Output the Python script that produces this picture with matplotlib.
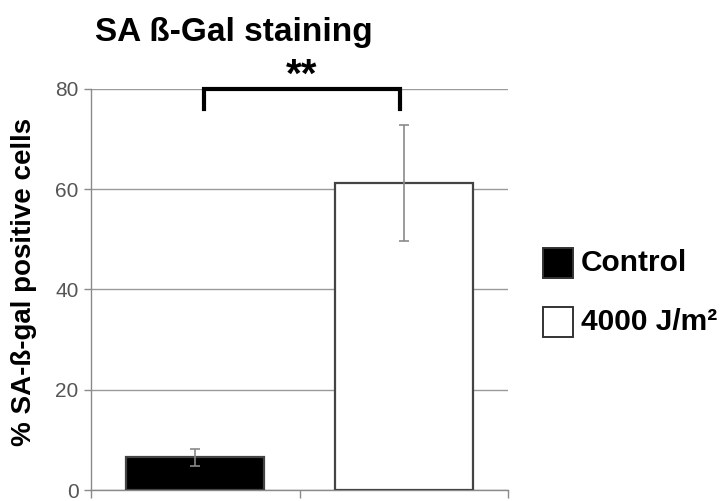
import matplotlib
matplotlib.use('Agg')
import matplotlib.pyplot as plt
from matplotlib.patches import Rectangle

# Senescence-associated beta-gal staining, percent positive cells
groups = ["Control", "4000 J/m\u00b2"]
values = [6.5, 61.2]
errors = [1.7, 11.6]
bar_colors = ["black", "white"]
y_ticks = [0, 20, 40, 60, 80]
signif = "**"

plt.rcParams['font.family'] = ['Liberation Sans', 'DejaVu Sans']

fig = plt.figure(figsize=(7.2, 5.01), dpi=100)
ax = fig.add_axes([91 / 720, 11 / 501, 417 / 720, 401 / 501])

x = [0.5, 1.5]
ax.bar(x, values, width=0.66, color=bar_colors, edgecolor='#444444',
       linewidth=1.6, zorder=3)
ax.errorbar(x, values, yerr=errors, fmt='none', ecolor='#8a8a8a',
            elinewidth=1.2, capsize=3.5, capthick=1.2, zorder=4)

ax.set_xlim(0, 2)
ax.set_ylim(0, 80)
ax.set_yticks(y_ticks)
ax.set_xticks([0, 1, 2])
ax.set_xticklabels([])
ax.yaxis.grid(True, color='#9a9a9a', linewidth=1.0, zorder=0)
ax.set_axisbelow(True)
for side in ['top', 'right']:
    ax.spines[side].set_visible(False)
for side in ['left', 'bottom']:
    ax.spines[side].set_color('#8a8a8a')
    ax.spines[side].set_linewidth(1.0)
ax.tick_params(axis='both', colors='#8a8a8a', length=5, width=1.0,
               labelsize=15, labelcolor='#555555', pad=4)
ax.tick_params(axis='x', length=6)

ax.set_ylabel("% SA-\u00df-gal positive cells", fontsize=20,
              fontweight='bold')
ax.yaxis.set_label_coords(-54 / 417, 0.52)

# significance bracket between the two bars
bx0, bx1 = 0.54, 1.48
ax.plot([bx0, bx0, bx1, bx1], [76.0, 80, 80, 76.0], color='black',
        linewidth=3.0, clip_on=False, zorder=5, solid_joinstyle='miter')
ax.text((bx0 + bx1) / 2, 80.4, signif, ha='center', va='baseline',
        fontsize=29, fontweight='bold')

fig.text(95 / 720, 1 - 33 / 501, "SA \u00df-Gal staining", fontsize=24,
         fontweight='bold', va='center', ha='left')

# legend drawn as squares + labels
for i, (lab, col) in enumerate(zip(groups, bar_colors)):
    yc = 1 - (263 + i * 59) / 501
    fig.patches.append(Rectangle((543 / 720, yc - 15 / 501), 30 / 720, 30 / 501,
                                 transform=fig.transFigure, facecolor=col,
                                 edgecolor='#333333', linewidth=1.4))
    fig.text(581 / 720, yc, lab, fontsize=21.5, fontweight='bold',
             va='center', ha='left')

fig.savefig('out.png', dpi=100)
